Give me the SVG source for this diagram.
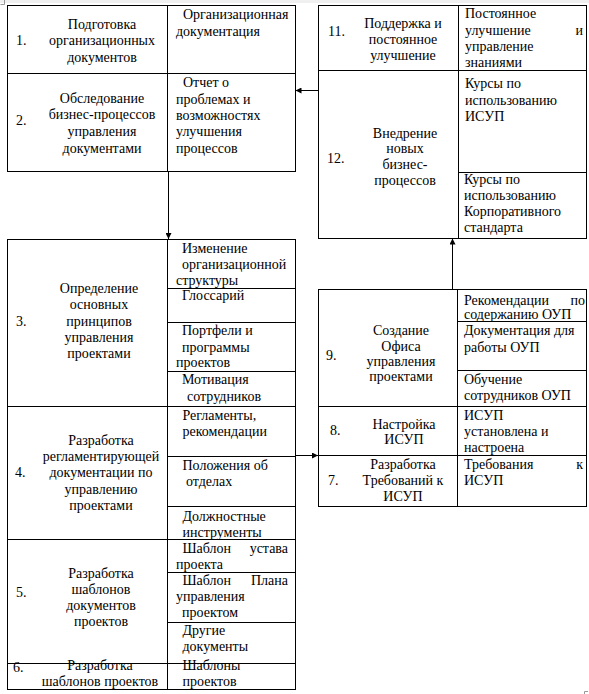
<svg xmlns="http://www.w3.org/2000/svg" width="589" height="694" viewBox="0 0 589 694">
<style>
.b{fill:none;stroke:#000;stroke-width:1}
text{font-family:"Liberation Serif","Times New Roman",serif;font-size:14px;fill:#000}
.c{text-anchor:middle}
.e{text-anchor:end}
.m{fill:none;stroke:#999;stroke-width:1}
</style>
<defs>
<marker id="ah" viewBox="0 0 6 6" refX="6" refY="3" markerWidth="6" markerHeight="6" markerUnits="userSpaceOnUse" orient="auto">
<path d="M0,0 L6,3 L0,6 z" fill="#000"/>
</marker>
</defs>
<rect x="0" y="0" width="589" height="694" fill="#fff"/>
<rect x="0" y="0" width="589" height="3" fill="#f0f0f0"/>
<path class="m" d="M0.5,4.5 H4.5 V0"/>
<path class="m" d="M584.5,694 V691.5 H588"/>

<g id="step1">
<rect class="b" x="7.5" y="5.5" width="288" height="68"/>
<line class="b" x1="167.5" y1="5.5" x2="167.5" y2="73.5"/>
<text x="16" y="45">1.</text>
<text class="c" x="102" y="29">Подготовка</text>
<text class="c" x="102" y="45">организационных</text>
<text class="c" x="102" y="61.5">документов</text>
<text x="183" y="19">Организационная</text>
<text x="176" y="36">документация</text>
</g>

<g id="step2">
<rect class="b" x="7.5" y="73.5" width="288" height="98"/>
<line class="b" x1="167.5" y1="73.5" x2="167.5" y2="171.5"/>
<text x="16" y="125">2.</text>
<text class="c" x="102" y="102.5">Обследование</text>
<text class="c" x="102" y="119">бизнес-процессов</text>
<text class="c" x="102" y="136">управления</text>
<text class="c" x="102" y="152.5">документами</text>
<text x="183" y="87">Отчет о</text>
<text x="176" y="103.5">проблемах и</text>
<text x="176" y="120">возможностях</text>
<text x="176" y="136">улучшения</text>
<text x="176" y="152.5">процессов</text>
</g>

<g id="step3">
<rect class="b" x="7.5" y="239.5" width="288" height="167"/>
<line class="b" x1="167.5" y1="239.5" x2="167.5" y2="406.5"/>
<line class="b" x1="167.5" y1="288.5" x2="295.5" y2="288.5"/>
<line class="b" x1="167.5" y1="322.5" x2="295.5" y2="322.5"/>
<line class="b" x1="167.5" y1="371.5" x2="295.5" y2="371.5"/>
<text x="16" y="325.5">3.</text>
<text class="c" x="99" y="293">Определение</text>
<text class="c" x="99" y="309">основных</text>
<text class="c" x="99" y="325.5">принципов</text>
<text class="c" x="99" y="342">управления</text>
<text class="c" x="99" y="358">проектами</text>
<text x="182" y="252.5">Изменение</text>
<text x="182" y="268.5">организационной</text>
<text x="176" y="284.5">структуры</text>
<text x="182" y="300">Глоссарий</text>
<text x="182" y="335">Портфели и</text>
<text x="182" y="351.5">программы</text>
<text x="176" y="367">проектов</text>
<text x="182" y="384">Мотивация</text>
<text x="187" y="400.5">сотрудников</text>
</g>

<g id="step4">
<rect class="b" x="7.5" y="406.5" width="288" height="133"/>
<line class="b" x1="167.5" y1="406.5" x2="167.5" y2="539.5"/>
<line class="b" x1="167.5" y1="456.5" x2="295.5" y2="456.5"/>
<line class="b" x1="167.5" y1="506.5" x2="295.5" y2="506.5"/>
<text x="15" y="477">4.</text>
<text class="c" x="101" y="445">Разработка</text>
<text class="c" x="101" y="461">регламентирующей</text>
<text class="c" x="101" y="477">документации по</text>
<text class="c" x="101" y="493.5">управлению</text>
<text class="c" x="101" y="510">проектами</text>
<text x="182.5" y="420">Регламенты,</text>
<text x="182.5" y="436">рекомендации</text>
<text x="182.5" y="470">Положения об</text>
<text x="186" y="486">отделах</text>
<text x="182.5" y="521">Должностные</text>
<text x="182.5" y="537">инструменты</text>
</g>

<g id="step5">
<rect class="b" x="7.5" y="539.5" width="288" height="124"/>
<line class="b" x1="167.5" y1="539.5" x2="167.5" y2="663.5"/>
<line class="b" x1="167.5" y1="572.5" x2="295.5" y2="572.5"/>
<line class="b" x1="167.5" y1="622.5" x2="295.5" y2="622.5"/>
<text x="16" y="597">5.</text>
<text class="c" x="101" y="578">Разработка</text>
<text class="c" x="101" y="594">шаблонов</text>
<text class="c" x="101" y="610">документов</text>
<text class="c" x="101" y="626">проектов</text>
<text x="182.5" y="552.5">Шаблон</text>
<text class="e" x="288" y="552.5">устава</text>
<text x="176" y="568.5">проекта</text>
<text x="182.5" y="584.5">Шаблон</text>
<text class="e" x="288" y="584.5">Плана</text>
<text x="176" y="600.5">управления</text>
<text x="182" y="617">проектом</text>
<text x="182.5" y="635">Другие</text>
<text x="182.5" y="651">документы</text>
</g>

<g id="step6">
<rect class="b" x="7.5" y="663.5" width="288" height="26"/>
<line class="b" x1="167.5" y1="663.5" x2="167.5" y2="689.5"/>
<text x="13" y="672">6.</text>
<text class="c" x="100" y="670">Разработка</text>
<text class="c" x="100" y="686">шаблонов проектов</text>
<text x="182.5" y="670">Шаблоны</text>
<text x="182.5" y="686">проектов</text>
</g>

<g id="step11">
<rect class="b" x="318.5" y="5.5" width="268" height="65"/>
<line class="b" x1="458.5" y1="5.5" x2="458.5" y2="70.5"/>
<text x="328" y="36">11.</text>
<text class="c" x="403" y="28">Поддержка и</text>
<text class="c" x="403" y="44">постоянное</text>
<text class="c" x="403" y="60">улучшение</text>
<text x="465" y="18">Постоянное</text>
<text x="465" y="34.5">улучшение</text>
<text class="e" x="583" y="34.5">и</text>
<text x="465" y="50.5">управление</text>
<text x="465" y="66.5">знаниями</text>
</g>

<g id="step12">
<rect class="b" x="318.5" y="70.5" width="268" height="168"/>
<line class="b" x1="458.5" y1="70.5" x2="458.5" y2="238.5"/>
<line class="b" x1="458.5" y1="172.5" x2="586.5" y2="172.5"/>
<text x="327" y="163">12.</text>
<text class="c" x="405" y="137.5">Внедрение</text>
<text class="c" x="405" y="153">новых</text>
<text class="c" x="405" y="169">бизнес-</text>
<text class="c" x="405" y="185">процессов</text>
<text x="465" y="88">Курсы по</text>
<text x="465" y="104.5">использованию</text>
<text x="465" y="120.5">ИСУП</text>
<text x="464" y="184">Курсы по</text>
<text x="464" y="200">использованию</text>
<text x="464" y="216">Корпоративного</text>
<text x="464" y="232">стандарта</text>
</g>

<g id="step9">
<rect class="b" x="318.5" y="289.5" width="268" height="117"/>
<line class="b" x1="457.5" y1="289.5" x2="457.5" y2="406.5"/>
<line class="b" x1="457.5" y1="321.5" x2="586.5" y2="321.5"/>
<line class="b" x1="457.5" y1="370.5" x2="586.5" y2="370.5"/>
<text x="326" y="360">9.</text>
<text class="c" x="401" y="335">Создание</text>
<text class="c" x="401" y="350.5">Офиса</text>
<text class="c" x="401" y="365.5">управления</text>
<text class="c" x="401" y="380.5">проектами</text>
<text x="464" y="305">Рекомендации</text>
<text class="e" x="585" y="305">по</text>
<text x="464" y="319">содержанию ОУП</text>
<text x="464" y="335">Документация для</text>
<text x="464" y="351.5">работы ОУП</text>
<text x="464" y="383.5">Обучение</text>
<text x="464" y="399.5">сотрудников ОУП</text>
</g>

<g id="step8">
<rect class="b" x="318.5" y="406.5" width="268" height="49"/>
<line class="b" x1="457.5" y1="406.5" x2="457.5" y2="455.5"/>
<text x="330" y="435">8.</text>
<text class="c" x="404" y="428.5">Настройка</text>
<text class="c" x="404" y="443.5">ИСУП</text>
<text x="464" y="420">ИСУП</text>
<text x="464" y="436">установлена и</text>
<text x="464" y="452">настроена</text>
</g>

<g id="step7">
<rect class="b" x="318.5" y="455.5" width="268" height="51"/>
<line class="b" x1="457.5" y1="455.5" x2="457.5" y2="506.5"/>
<text x="328" y="485">7.</text>
<text class="c" x="403" y="468.5">Разработка</text>
<text class="c" x="403" y="485">Требований к</text>
<text class="c" x="403" y="500.5">ИСУП</text>
<text x="464" y="468.5">Требования</text>
<text class="e" x="583" y="468.5">к</text>
<text x="464" y="485">ИСУП</text>
</g>

<g id="connectors">
<line class="b" x1="318" y1="90.5" x2="295.5" y2="90.5" marker-end="url(#ah)"/>
<line class="b" x1="168.5" y1="171.5" x2="168.5" y2="239" marker-end="url(#ah)"/>
<line class="b" x1="295.5" y1="455.5" x2="318" y2="455.5" marker-end="url(#ah)"/>
<line class="b" x1="452.5" y1="289" x2="452.5" y2="238.5" marker-end="url(#ah)"/>
</g>
</svg>
